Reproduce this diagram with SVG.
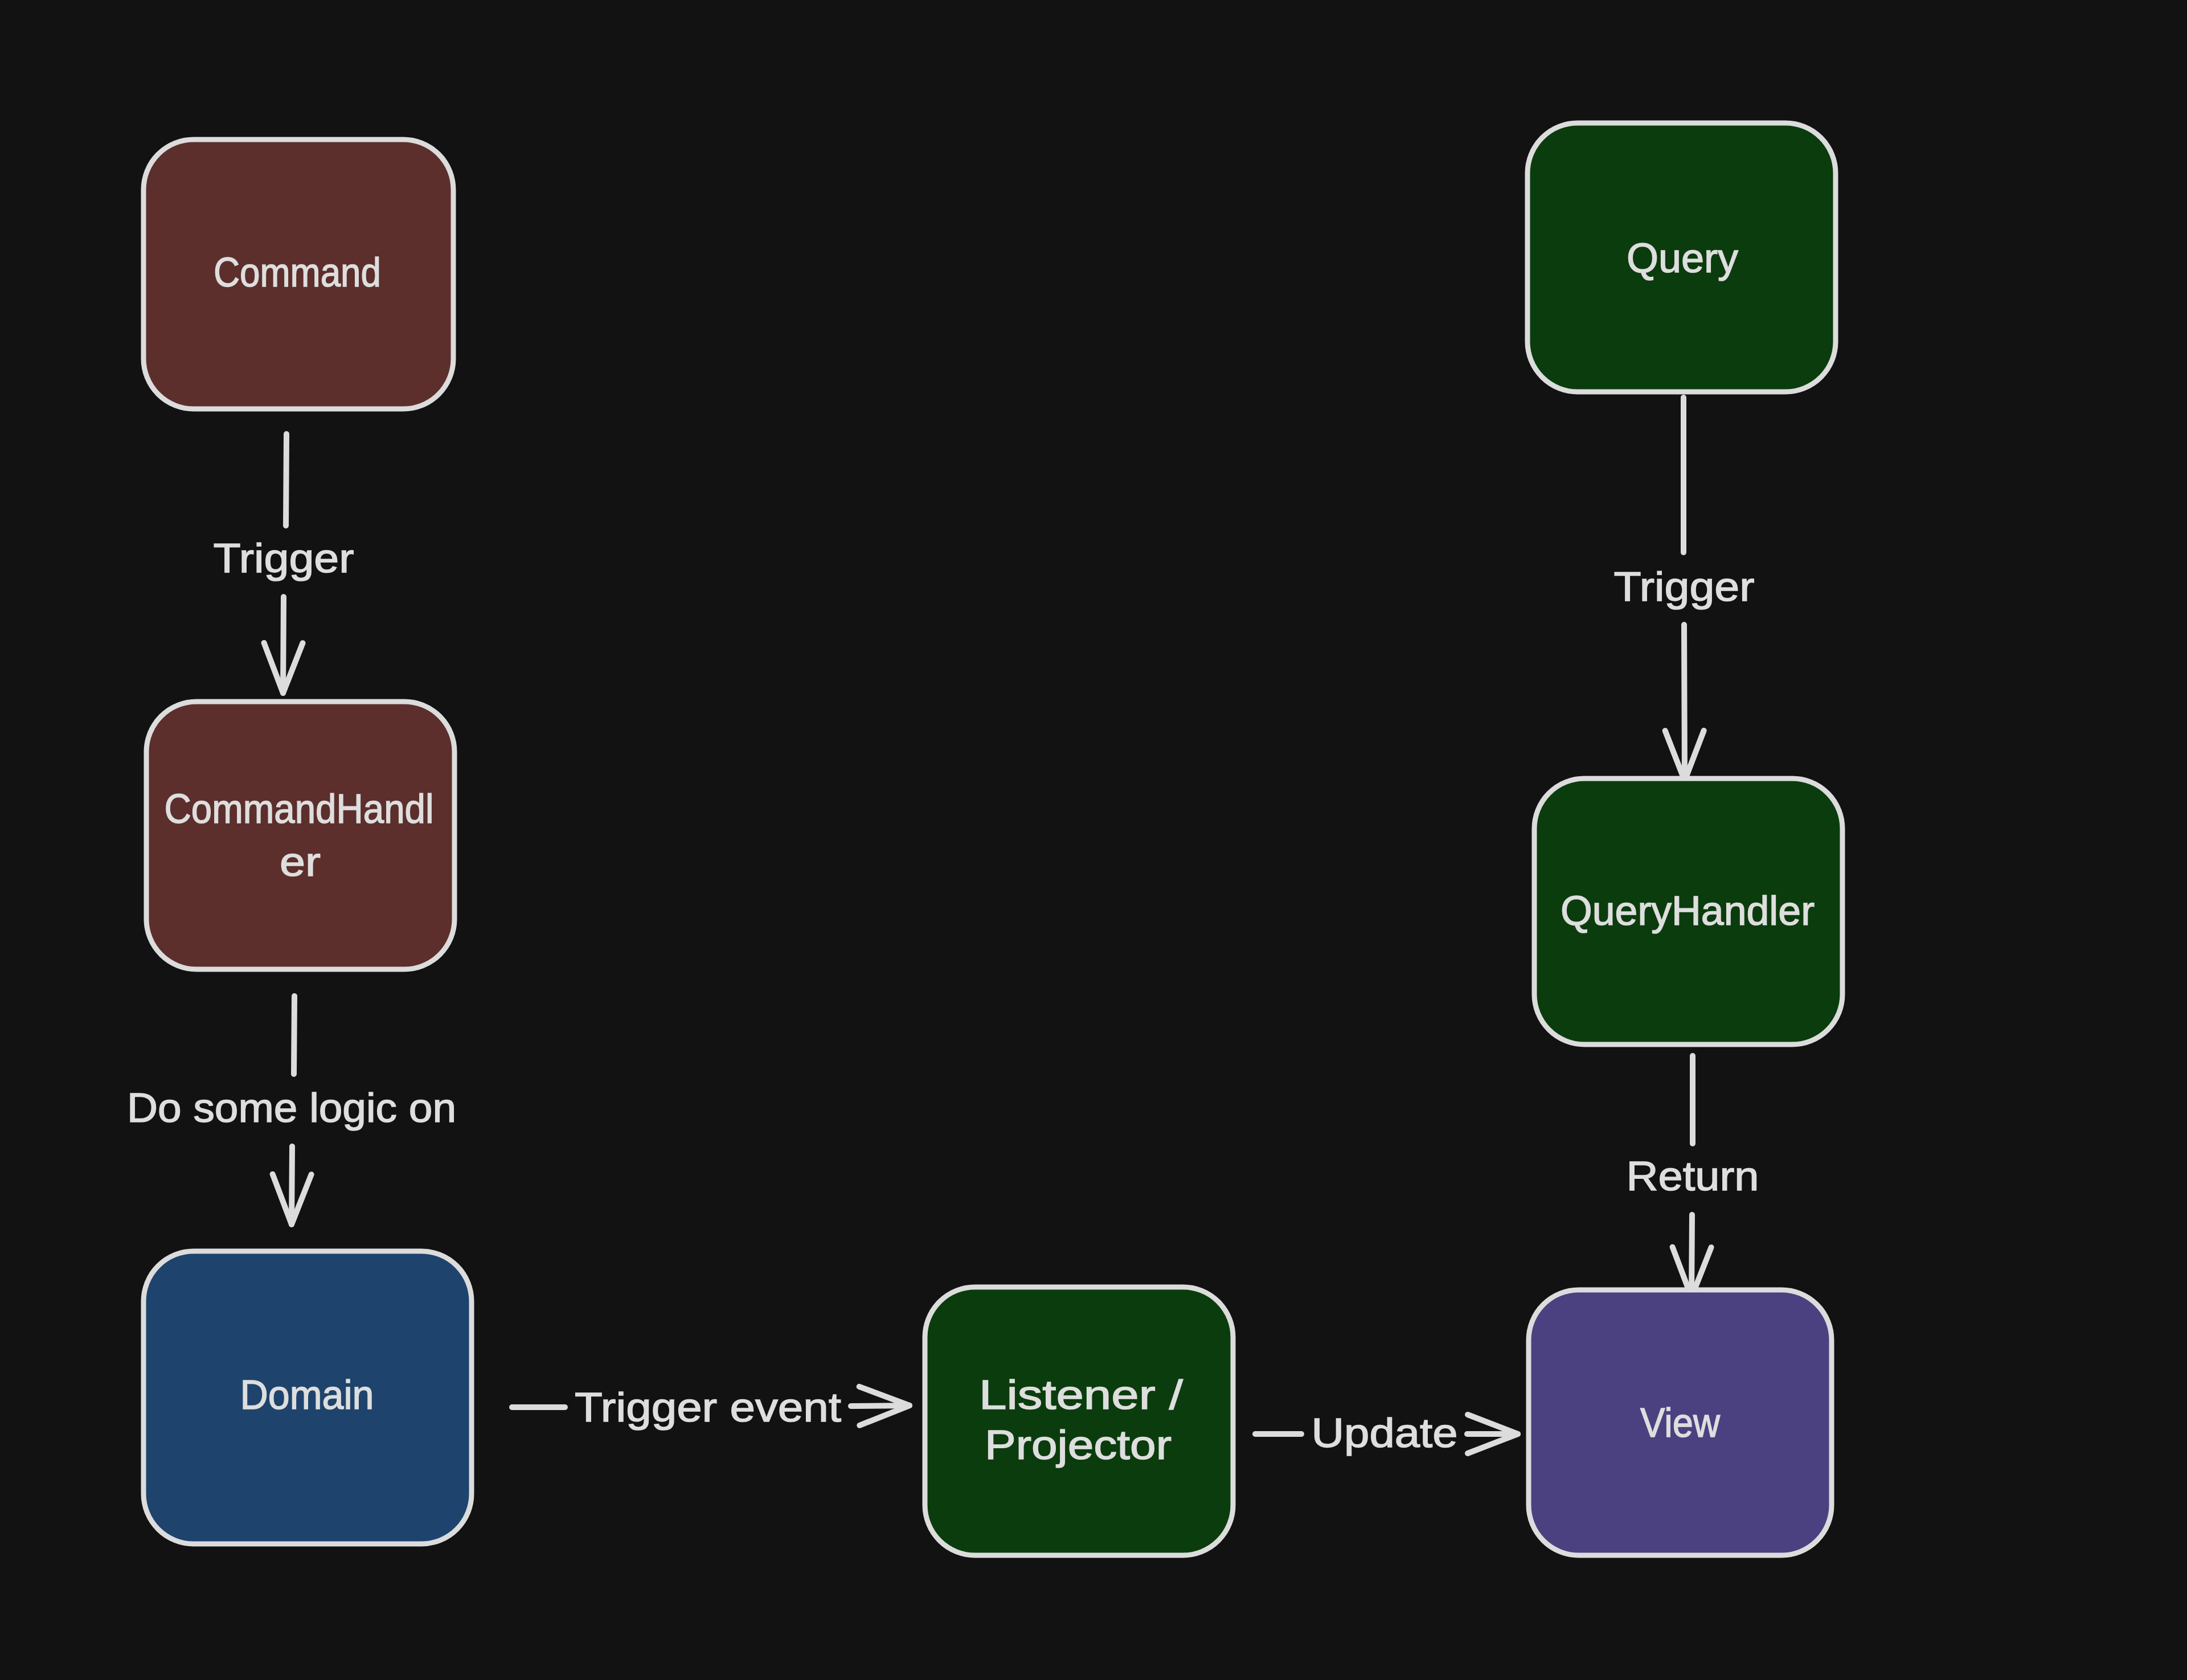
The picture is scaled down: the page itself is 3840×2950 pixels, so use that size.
<svg xmlns="http://www.w3.org/2000/svg" width="3840" height="2950" viewBox="0 0 3840 2950">
<defs>
<style>
.box{stroke:#dcdcdc;stroke-width:9;}
.lbl{font-family:"Liberation Sans","Noto Sans",sans-serif;font-size:72px;fill:#dedede;stroke:#dedede;stroke-width:1.5;text-anchor:middle;dominant-baseline:central;}
.ln{stroke:#dcdcdc;stroke-width:10;fill:none;stroke-linecap:round;}
</style>
<marker id="ah" markerUnits="userSpaceOnUse" markerWidth="200" markerHeight="200" viewBox="-100 -100 200 200" refX="0" refY="0" orient="auto" overflow="visible">
<path d="M -88 -34 L 0 0 L -88 34" fill="none" stroke="#dcdcdc" stroke-width="10" stroke-linecap="round" stroke-linejoin="round"/>
</marker>
</defs>
<rect width="3840" height="2950" fill="#121212"/>

<g id="connectors">
<line class="ln" x1="503" y1="762" x2="502" y2="923"/>
<line class="ln" x1="498" y1="1048" x2="497" y2="1217" marker-end="url(#ah)"/>
<text class="lbl" x="498" y="980" textLength="247" lengthAdjust="spacingAndGlyphs">Trigger</text>

<line class="ln" x1="517" y1="1749" x2="516" y2="1886"/>
<line class="ln" x1="513" y1="2013" x2="512" y2="2150" marker-end="url(#ah)"/>
<text class="lbl" x="512" y="1945" textLength="578" lengthAdjust="spacingAndGlyphs">Do some logic on</text>

<line class="ln" x1="899" y1="2471" x2="992" y2="2471"/>
<line class="ln" x1="1494" y1="2469" x2="1597" y2="2468" marker-end="url(#ah)"/>
<text class="lbl" x="1243" y="2471" textLength="468" lengthAdjust="spacingAndGlyphs">Trigger event</text>

<line class="ln" x1="2204" y1="2518" x2="2285" y2="2518"/>
<line class="ln" x1="2576" y1="2518" x2="2665" y2="2518" marker-end="url(#ah)"/>
<text class="lbl" x="2431" y="2516" textLength="257" lengthAdjust="spacingAndGlyphs">Update</text>

<line class="ln" x1="2956" y1="698" x2="2956" y2="970"/>
<line class="ln" x1="2957" y1="1097" x2="2958" y2="1371" marker-end="url(#ah)"/>
<text class="lbl" x="2957" y="1030" textLength="247" lengthAdjust="spacingAndGlyphs">Trigger</text>

<line class="ln" x1="2972" y1="1854" x2="2972" y2="2008"/>
<line class="ln" x1="2971" y1="2133" x2="2970" y2="2278" marker-end="url(#ah)"/>
<text class="lbl" x="2972" y="2065" textLength="233" lengthAdjust="spacingAndGlyphs">Return</text>
</g>

<g id="command">
<rect class="box" x="252" y="245" width="544" height="473" rx="88" fill="#5c2f2c"/>
<text class="lbl" x="522" y="478" textLength="294" lengthAdjust="spacingAndGlyphs">Command</text>
</g>

<g id="commandhandler">
<rect class="box" x="257" y="1232" width="541" height="470" rx="88" fill="#5c2f2c"/>
<text class="lbl" x="525" y="1420" textLength="473" lengthAdjust="spacingAndGlyphs">CommandHandl</text>
<text class="lbl" x="527" y="1513" textLength="72" lengthAdjust="spacingAndGlyphs">er</text>
</g>

<g id="domain">
<rect class="box" x="252" y="2197" width="576" height="514" rx="88" fill="#1e446d"/>
<text class="lbl" x="539" y="2449" textLength="235" lengthAdjust="spacingAndGlyphs">Domain</text>
</g>

<g id="listener">
<rect class="box" x="1624" y="2260" width="541" height="471" rx="88" fill="#0b3c0d"/>
<text class="lbl" x="1898" y="2449" textLength="358" lengthAdjust="spacingAndGlyphs">Listener /</text>
<text class="lbl" x="1893" y="2537" textLength="328" lengthAdjust="spacingAndGlyphs">Projector</text>
</g>

<g id="view">
<rect class="box" x="2684" y="2265" width="532" height="466" rx="88" fill="#4b4180"/>
<text class="lbl" x="2950" y="2498" textLength="140" lengthAdjust="spacingAndGlyphs">View</text>
</g>

<g id="query">
<rect class="box" x="2682" y="216" width="541" height="472" rx="88" fill="#0b3c0d"/>
<text class="lbl" x="2954" y="453" textLength="196" lengthAdjust="spacingAndGlyphs">Query</text>
</g>

<g id="queryhandler">
<rect class="box" x="2694" y="1367" width="541" height="467" rx="88" fill="#0b3c0d"/>
<text class="lbl" x="2963" y="1599" textLength="446" lengthAdjust="spacingAndGlyphs">QueryHandler</text>
</g>
</svg>
